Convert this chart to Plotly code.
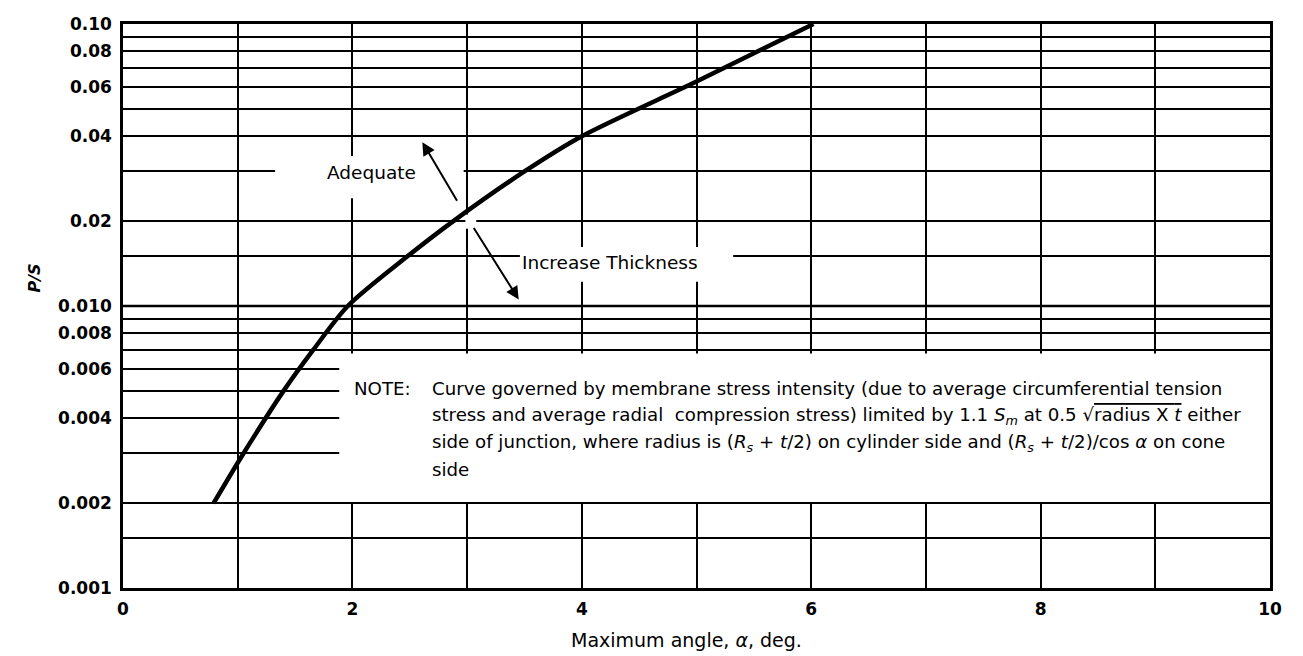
import plotly.graph_objects as go

# ---- data ----
angle_deg = [0.79, 1.05, 1.40, 1.66, 1.96, 2.48, 2.88, 3.50, 4.00, 5.00, 6.02]
p_over_s = [0.002, 0.003, 0.005, 0.007, 0.010, 0.015, 0.020, 0.030, 0.040, 0.0625, 0.100]

x_label_vals = [0, 2, 4, 6, 8, 10]
x_label_text = ["0", "2", "4", "6", "8", "10"]
x_minor_grid = [1, 3, 5, 7, 9]

y_label_vals = [0.001, 0.002, 0.004, 0.006, 0.008, 0.010, 0.02, 0.04, 0.06, 0.08, 0.10]
y_label_text = ["0.001", "0.002", "0.004", "0.006", "0.008", "0.010",
                "0.02", "0.04", "0.06", "0.08", "0.10"]
y_minor_grid = [0.0015, 0.003, 0.005, 0.007, 0.009, 0.015, 0.03, 0.05, 0.07, 0.09]

note_lines = [
    "Curve governed by membrane stress intensity (due to average circumferential tension",
    "stress and average radial  compression stress) limited by 1.1 <i>S<sub>m</sub></i> at 0.5 √<span style='text-decoration:overline'>radius X <i>t</i></span> either",
    "side of junction, where radius is (<i>R<sub>s</sub></i> + <i>t</i>/2) on cylinder side and (<i>R<sub>s</sub></i> + <i>t</i>/2)/cos <i>α</i> on cone",
    "side",
]
note_line_logy = [-2.293, -2.389, -2.485, -2.581]

FONT = "DejaVu Sans, Liberation Sans, Arial, sans-serif"
GRID_W = 1.6

fig = go.Figure()
fig.add_trace(go.Scatter(
    x=angle_deg, y=p_over_s, mode="lines",
    line=dict(color="black", width=4.5, shape="spline", smoothing=0.8),
    hoverinfo="skip", showlegend=False,
))

# white masks interrupting the grid (drawn between grid and traces)
masks = [
    (1.885, 10.0, 0.00202, 0.00678),   # note area
    (1.326, 2.97, 0.0241, 0.0340),     # "Adequate"
    (3.46, 5.32, 0.0122, 0.0162),      # "Increase Thickness"
    (2.985, 3.08, 0.0188, 0.0211),     # gap at the arrows' crossing
]
for x0, x1, y0, y1 in masks:
    fig.add_shape(type="rect", xref="x", yref="y", x0=x0, x1=x1, y0=y0, y1=y1,
                  fillcolor="white", line=dict(width=0), layer="between")

# labels
fig.add_annotation(x=2.17, y=-1.526, xref="x", yref="y", text="Adequate",
                   showarrow=False, font=dict(family=FONT, size=18.5, color="black"))
fig.add_annotation(x=4.25, y=-1.845, xref="x", yref="y", text="Increase Thickness",
                   showarrow=False, font=dict(family=FONT, size=18.5, color="black"))

# arrows
fig.add_annotation(x=2.61, y=-1.419, ax=2.92, ay=-1.632, xref="x", yref="y",
                   axref="x", ayref="y", text="", showarrow=True, arrowhead=2,
                   arrowsize=1.3, arrowwidth=2, arrowcolor="black")
fig.add_annotation(x=3.45, y=-1.977, ax=3.05, ay=-1.718, xref="x", yref="y",
                   axref="x", ayref="y", text="", showarrow=True, arrowhead=2,
                   arrowsize=1.3, arrowwidth=2, arrowcolor="black")

# note
fig.add_annotation(x=2.0, y=note_line_logy[0], xref="x", yref="y", text="NOTE:",
                   xanchor="left", yanchor="middle", showarrow=False,
                   font=dict(family=FONT, size=18.2, color="black"))
for txt, ly in zip(note_lines, note_line_logy):
    fig.add_annotation(x=2.68, y=ly, xref="x", yref="y", text=txt,
                       xanchor="left", yanchor="middle", showarrow=False, align="left",
                       font=dict(family=FONT, size=18.2, color="black"))

# axis titles
fig.add_annotation(x=-0.087, y=0.55, xref="paper", yref="paper", text="<i><b>P/S</b></i>",
                   textangle=-90, showarrow=False,
                   font=dict(family=FONT, size=16, color="black"))
fig.add_annotation(x=0.491, y=-0.092, xref="paper", yref="paper",
                   text="Maximum angle, <i>α</i>, deg.", showarrow=False,
                   xanchor="center", yanchor="middle",
                   font=dict(family=FONT, size=19, color="black"))

fig.update_xaxes(
    range=[0, 10], tickmode="array", tickvals=x_label_vals, ticktext=x_label_text,
    showgrid=True, gridcolor="black", gridwidth=GRID_W, zeroline=False,
    minor=dict(tickmode="array", tickvals=x_minor_grid, showgrid=True,
               gridcolor="black", gridwidth=GRID_W, ticks=""),
    showline=True, mirror=True, linecolor="black", linewidth=2.5,
    ticks="", ticklabelstandoff=4, automargin=False,
    tickfont=dict(family=FONT, size=17, color="black", weight="bold"),
)
fig.update_yaxes(
    type="log", range=[-3, -1], tickmode="array", tickvals=y_label_vals, ticktext=y_label_text,
    showgrid=True, gridcolor="black", gridwidth=GRID_W, zeroline=False,
    minor=dict(tickmode="array", tickvals=y_minor_grid, showgrid=True,
               gridcolor="black", gridwidth=GRID_W, ticks=""),
    showline=True, mirror=True, linecolor="black", linewidth=2.5,
    ticks="", ticklabelstandoff=5, automargin=False,
    tickfont=dict(family=FONT, size=17, color="black", weight="bold"),
)
fig.add_shape(type="line", xref="paper", yref="y", x0=0, x1=1, y0=0.01, y1=0.01,
              line=dict(color="black", width=2.6), layer="between")

fig.update_layout(
    width=1303, height=656,
    margin=dict(l=123, r=33, t=24, b=68),
    plot_bgcolor="white", paper_bgcolor="white",
    font=dict(family=FONT, color="black"),
)

fig.write_html("out.html", config={"displayModeBar": False},
               post_script="document.body.style.margin='0';document.body.style.overflow='hidden';")
